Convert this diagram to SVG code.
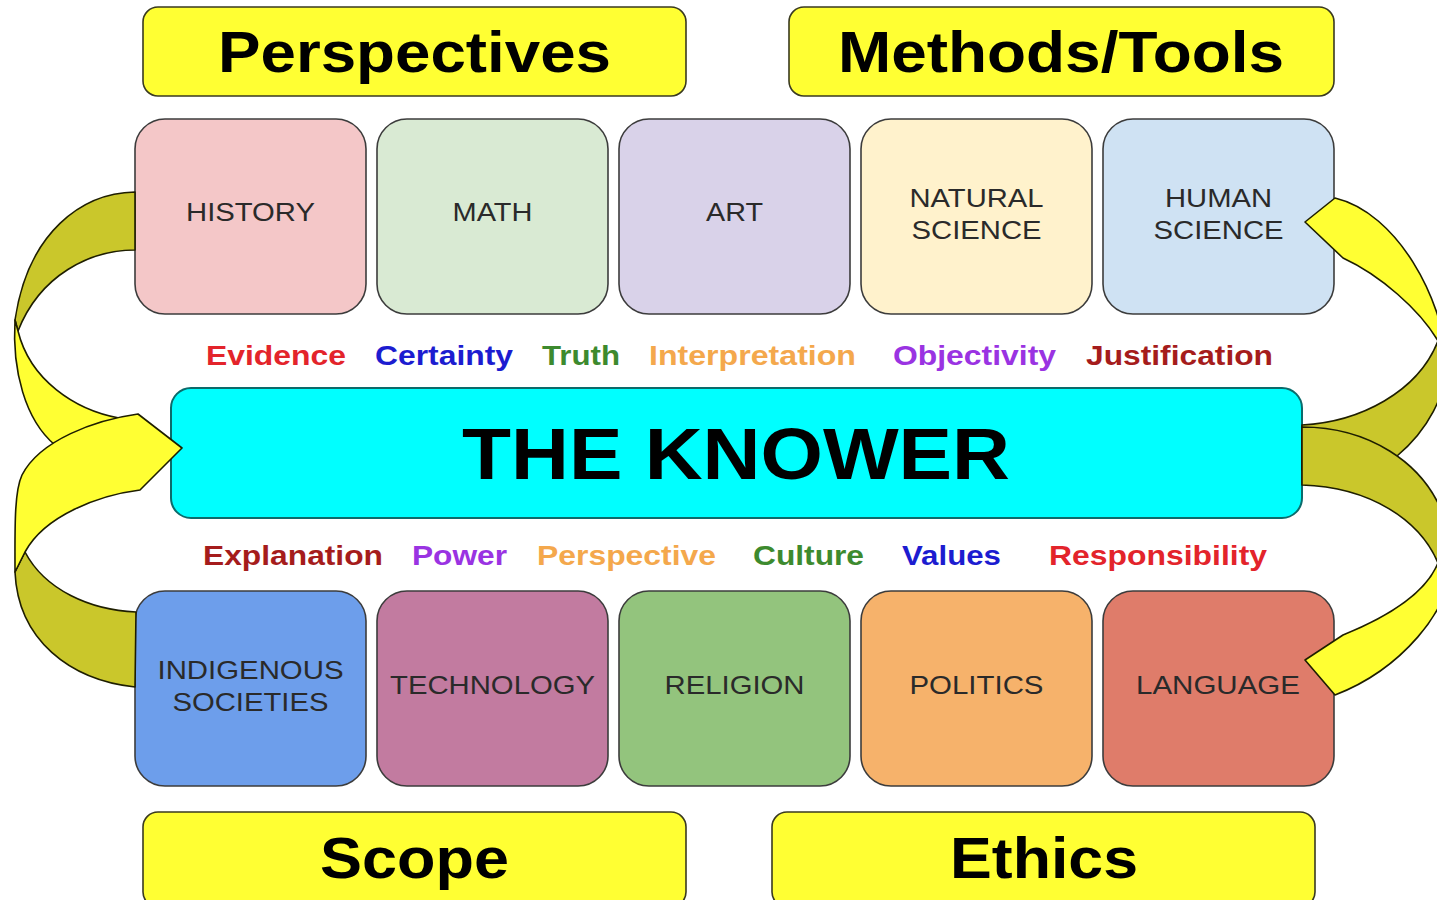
<svg xmlns="http://www.w3.org/2000/svg" width="1437" height="900" viewBox="0 0 1437 900">
<style>
.hdr{fill:#ffff33;stroke:#3a3a20;stroke-width:1.6}
.ht{font-family:"Liberation Sans",Arial,sans-serif;font-weight:bold;font-size:57px;fill:#000;text-anchor:middle}
.box{stroke:#3c3c3c;stroke-width:1.6}
.bl{font-family:"Liberation Sans",Arial,sans-serif;font-size:26px;fill:#2a2a2a;text-anchor:middle}
.w{font-family:"Liberation Sans",Arial,sans-serif;font-weight:bold;font-size:28px;text-anchor:middle}
.front{fill:#ffff33;stroke:#1e1e00;stroke-width:1.6;stroke-linejoin:round}
.back{fill:#cac72b;stroke:#1e1e00;stroke-width:1.6;stroke-linejoin:round}
</style>
<rect width="1437" height="900" fill="#ffffff"/>

<g id="perspectives">
  <rect class="hdr" x="143" y="7" width="543" height="89" rx="15"/>
  <text class="ht" x="414.5" y="72" textLength="393" lengthAdjust="spacingAndGlyphs">Perspectives</text>
</g>
<g id="methods-tools">
  <rect class="hdr" x="789" y="7" width="545" height="89" rx="15"/>
  <text class="ht" x="1061" y="72" textLength="446" lengthAdjust="spacingAndGlyphs">Methods/Tools</text>
</g>
<g id="scope">
  <rect class="hdr" x="143" y="812" width="543" height="95" rx="15"/>
  <text class="ht" x="414.5" y="878" textLength="189" lengthAdjust="spacingAndGlyphs">Scope</text>
</g>
<g id="ethics">
  <rect class="hdr" x="772" y="812" width="543" height="95" rx="15"/>
  <text class="ht" x="1044" y="878" textLength="188" lengthAdjust="spacingAndGlyphs">Ethics</text>
</g>

<g id="history">
  <rect class="box" x="135" y="119" width="231" height="195" rx="30" fill="#f4c7c8"/>
  <text class="bl" x="250.5" y="221" textLength="129" lengthAdjust="spacingAndGlyphs">HISTORY</text>
</g>
<g id="math">
  <rect class="box" x="377" y="119" width="231" height="195" rx="30" fill="#d9ead3"/>
  <text class="bl" x="492.5" y="221" textLength="80" lengthAdjust="spacingAndGlyphs">MATH</text>
</g>
<g id="art">
  <rect class="box" x="619" y="119" width="231" height="195" rx="30" fill="#d9d2e9"/>
  <text class="bl" x="734.5" y="221" textLength="57" lengthAdjust="spacingAndGlyphs">ART</text>
</g>
<g id="natural-science">
  <rect class="box" x="861" y="119" width="231" height="195" rx="30" fill="#fff2cc"/>
  <text class="bl" x="976.5" y="207" textLength="134" lengthAdjust="spacingAndGlyphs">NATURAL</text>
  <text class="bl" x="976.5" y="239" textLength="130" lengthAdjust="spacingAndGlyphs">SCIENCE</text>
</g>
<g id="human-science">
  <rect class="box" x="1103" y="119" width="231" height="195" rx="30" fill="#cfe2f3"/>
  <text class="bl" x="1218.5" y="207" textLength="107" lengthAdjust="spacingAndGlyphs">HUMAN</text>
  <text class="bl" x="1218.5" y="239" textLength="130" lengthAdjust="spacingAndGlyphs">SCIENCE</text>
</g>

<g id="labels-top">
  <text class="w" x="276" y="365" fill="#e3242b" textLength="140" lengthAdjust="spacingAndGlyphs">Evidence</text>
  <text class="w" x="444" y="365" fill="#1c1cd0" textLength="138" lengthAdjust="spacingAndGlyphs">Certainty</text>
  <text class="w" x="581" y="365" fill="#3d8a2e" textLength="78" lengthAdjust="spacingAndGlyphs">Truth</text>
  <text class="w" x="752.5" y="365" fill="#f4a84c" textLength="207" lengthAdjust="spacingAndGlyphs">Interpretation</text>
  <text class="w" x="974.5" y="365" fill="#9a33e2" textLength="163" lengthAdjust="spacingAndGlyphs">Objectivity</text>
  <text class="w" x="1179.5" y="365" fill="#a51c1c" textLength="187" lengthAdjust="spacingAndGlyphs">Justification</text>
</g>

<g id="the-knower">
  <rect x="171" y="388" width="1131" height="130" rx="20" fill="#00ffff" stroke="#0c6b6b" stroke-width="2"/>
  <text class="ht" x="736" y="479" style="font-size:72px" textLength="548" lengthAdjust="spacingAndGlyphs">THE KNOWER</text>
</g>

<g id="labels-bottom">
  <text class="w" x="293" y="565" fill="#a51c1c" textLength="180" lengthAdjust="spacingAndGlyphs">Explanation</text>
  <text class="w" x="459.5" y="565" fill="#9a33e2" textLength="95" lengthAdjust="spacingAndGlyphs">Power</text>
  <text class="w" x="626.5" y="565" fill="#f4a84c" textLength="179" lengthAdjust="spacingAndGlyphs">Perspective</text>
  <text class="w" x="808.5" y="565" fill="#3d8a2e" textLength="111" lengthAdjust="spacingAndGlyphs">Culture</text>
  <text class="w" x="951.5" y="565" fill="#1c1cd0" textLength="99" lengthAdjust="spacingAndGlyphs">Values</text>
  <text class="w" x="1158" y="565" fill="#e3242b" textLength="218" lengthAdjust="spacingAndGlyphs">Responsibility</text>
</g>

<g id="indigenous-societies">
  <rect class="box" x="135" y="591" width="231" height="195" rx="30" fill="#6d9eeb"/>
  <text class="bl" x="250.5" y="679" textLength="186" lengthAdjust="spacingAndGlyphs">INDIGENOUS</text>
  <text class="bl" x="250.5" y="711" textLength="156" lengthAdjust="spacingAndGlyphs">SOCIETIES</text>
</g>
<g id="technology">
  <rect class="box" x="377" y="591" width="231" height="195" rx="30" fill="#c27ba0"/>
  <text class="bl" x="492.5" y="694" textLength="205" lengthAdjust="spacingAndGlyphs">TECHNOLOGY</text>
</g>
<g id="religion">
  <rect class="box" x="619" y="591" width="231" height="195" rx="30" fill="#93c47d"/>
  <text class="bl" x="734.5" y="694" textLength="140" lengthAdjust="spacingAndGlyphs">RELIGION</text>
</g>
<g id="politics">
  <rect class="box" x="861" y="591" width="231" height="195" rx="30" fill="#f6b26b"/>
  <text class="bl" x="976.5" y="694" textLength="134" lengthAdjust="spacingAndGlyphs">POLITICS</text>
</g>
<g id="language">
  <rect class="box" x="1103" y="591" width="231" height="195" rx="30" fill="#df7c6a"/>
  <text class="bl" x="1218" y="694" textLength="164" lengthAdjust="spacingAndGlyphs">LANGUAGE</text>
</g>

<g id="connectors">
  <!-- left upper arrow (HISTORY -> THE KNOWER) -->
  <path class="back" d="M135,192 C82,193 28,232 15,320 L18,331 C40,275 90,250 135,250 Z"/>
  <!-- left lower arrow back (INDIGENOUS SOCIETIES) -->
  <path class="back" d="M136,612 C90,610 45,590 25,552 L15,572 C18,640 70,680 135,687 Z"/>
  <!-- left upper arrow front -->
  <path class="front" d="M15,320 C12,370 25,420 55,445 L80,455 L130,450 L119,418 C75,410 30,380 18,331 Z"/>
  <!-- left lower arrow front with arrowhead -->
  <path class="front" d="M138,414 L182,448 L140,490 C100,495 45,515 25,552 L15,572 C15,530 14,492 22,475 C40,440 95,420 138,414 Z"/>

  <!-- right upper arrow back (THE KNOWER) -->
  <path class="back" d="M1302,425 C1360,422 1418,392 1438,341 L1447,362 C1446,395 1428,430 1397,456 L1340,470 L1302,470 Z"/>
  <!-- right lower arrow back (THE KNOWER) -->
  <path class="back" d="M1302,427 C1365,427 1425,460 1445,520 L1452,560 L1438,563 C1420,520 1370,487 1302,485 Z"/>
  <!-- right upper arrow front -> HUMAN SCIENCE -->
  <path class="front" d="M1343,258 C1380,275 1420,310 1438,341 L1447,362 C1443,300 1398,213 1335,198 L1305,222 Z"/>
  <!-- right lower arrow front -> LANGUAGE -->
  <path class="front" d="M1343,635 C1385,618 1425,595 1438,563 L1452,560 C1452,610 1400,670 1335,695 L1305,660 Z"/>
</g>
</svg>
